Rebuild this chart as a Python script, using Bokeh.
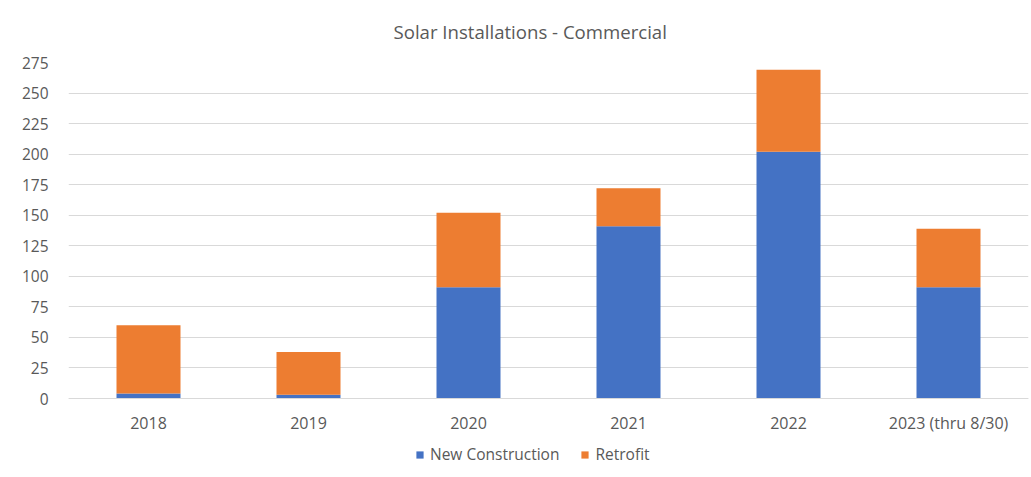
from bokeh.plotting import figure
from bokeh.models import ColumnDataSource, FactorRange, Range1d, FixedTicker, Legend, LegendItem
from bokeh.embed import file_html
from bokeh.resources import INLINE

# ---- data ----
categories = ["2018", "2019", "2020", "2021", "2022", "2023 (thru 8/30)"]
new_construction = [4, 3, 91, 141, 202, 91]
retrofit = [56, 35, 61, 31, 67, 48]
series_names = ["New Construction", "Retrofit"]
series_colors = ["#4472C4", "#ED7D31"]
y_ticks = [0, 25, 50, 75, 100, 125, 150, 175, 200, 225, 250, 275]
title_text = "Solar Installations - Commercial"

src = ColumnDataSource(dict(cat=categories, nc=new_construction, rf=retrofit))

TXT = "#595959"
FONT = "Open Sans"

# layout (pixels): frame spans the whole lower area so the legend can sit inside it;
# value 0 sits 79px above the bottom edge, value 275 at the frame top.
FRAME_TOP, ZERO_PX, H = 62, 398, 477
y_max = y_ticks[-1]
y_min = -y_max * (H - ZERO_PX) / (ZERO_PX - FRAME_TOP)

p = figure(
    width=1031, height=H,
    x_range=FactorRange(*categories, range_padding=0),
    y_range=Range1d(y_min, y_max),
    output_backend="svg", toolbar_location=None, tools="",
    min_border_left=68, min_border_right=3, min_border_top=FRAME_TOP, min_border_bottom=0,
)
p.title.text = title_text
p.title.align = "left"
p.title.offset = 325
p.title.vertical_align = "top"
p.title.text_font = FONT
p.title.text_font_size = "18.6px"
p.title.text_font_style = "normal"
p.title.text_color = TXT
p.title.standoff = 34

renderers = p.vbar_stack(["nc", "rf"], x="cat", width=0.4, source=src,
                         color=series_colors, line_color=None)

p.outline_line_color = None
p.background_fill_color = "white"
p.border_fill_color = "white"

p.xgrid.grid_line_color = None
p.ygrid.grid_line_color = "#D9D9D9"
p.ygrid.grid_line_width = 1

p.yaxis.ticker = FixedTicker(ticks=y_ticks)
p.yaxis.axis_line_color = None
p.yaxis.major_tick_line_color = None
p.yaxis.minor_tick_line_color = None
p.yaxis.major_label_standoff = 14
p.yaxis.major_label_text_font = FONT
p.yaxis.major_label_text_font_size = "15.5px"
p.yaxis.major_label_text_color = TXT

p.xaxis.fixed_location = 0
p.xaxis.axis_line_color = "#D9D9D9"
p.xaxis.major_tick_line_color = None
p.xaxis.minor_tick_line_color = None
p.xaxis.major_label_standoff = 7
p.xaxis.major_label_text_font = FONT
p.xaxis.major_label_text_font_size = "16px"
p.xaxis.major_label_text_color = TXT

legend = Legend(
    items=[LegendItem(label=n, renderers=[r]) for n, r in zip(series_names, renderers)],
    orientation="horizontal",
    location=(347, 12),
    padding=0, margin=0, spacing=21,
    glyph_width=9, glyph_height=9, label_standoff=6,
    label_text_font=FONT, label_text_font_size="15.5px", label_text_color=TXT,
    border_line_color=None, background_fill_alpha=0,
)
p.add_layout(legend, "center")

open("out.html", "w").write(file_html(p, INLINE))
